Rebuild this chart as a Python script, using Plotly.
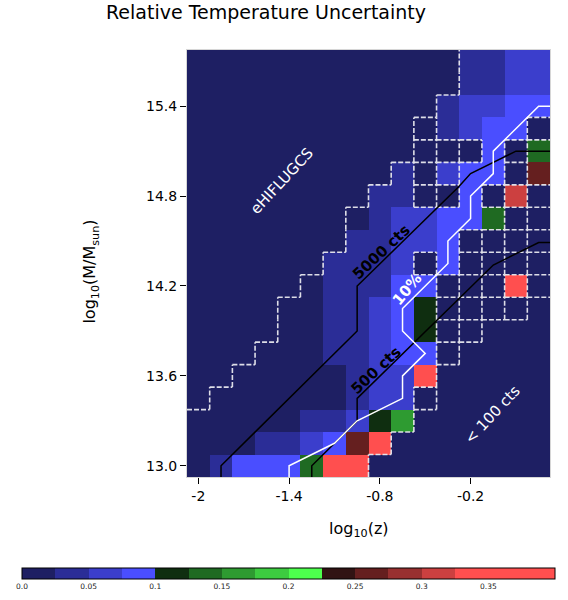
import plotly.graph_objects as go

# ---- grid of (log10 z, log10 M) bins --------------------------------------
logz_bins = [-2.0, -1.85, -1.7, -1.55, -1.4, -1.25, -1.1, -0.95,
             -0.8, -0.65, -0.5, -0.35, -0.2, -0.05, 0.1, 0.25]
logm_bins = [13.0, 13.15, 13.3, 13.45, 13.6, 13.75, 13.9, 14.05, 14.2, 14.35,
             14.5, 14.65, 14.8, 14.95, 15.1, 15.25, 15.4, 15.55, 15.7]
HALF = 0.075

# relative temperature uncertainty per bin, rows listed from the top (15.7) down
n = 0.01
rel_err_rows = [
    [n, n, n, n, n, n, n, n, n, n, n, n, 0.04, 0.04, 0.06, 0.06],
    [n, n, n, n, n, n, n, n, n, n, n, n, 0.04, 0.04, 0.06, 0.06],
    [n, n, n, n, n, n, n, n, n, n, n, 0.04, 0.06, 0.06, 0.09, 0.09],
    [n, n, n, n, n, n, n, n, n, n, n, 0.04, 0.06, 0.09, 0.09, n],
    [n, n, n, n, n, n, n, n, n, n, n, n, n, 0.09, n, 0.14],
    [n, n, n, n, n, n, n, n, n, 0.04, n, 0.06, 0.09, 0.09, n, 0.26],
    [n, n, n, n, n, n, n, n, 0.04, 0.04, n, n, 0.09, n, 0.31, n],
    [n, n, n, n, n, n, n, n, 0.04, 0.06, 0.06, 0.09, 0.09, 0.14, n, n],
    [n, n, n, n, n, n, n, 0.04, 0.04, 0.06, 0.06, 0.09, n, n, n, n],
    [n, n, n, n, n, n, 0.04, 0.04, 0.04, 0.06, n, 0.09, n, n, n, n],
    [n, n, n, n, n, n, 0.04, 0.04, 0.04, 0.09, 0.09, n, n, n, 0.36, n],
    [n, n, n, n, n, n, 0.04, 0.04, 0.06, 0.09, 0.11, n, n, n, n, n],
    [n, n, n, n, n, n, 0.04, 0.04, 0.06, 0.09, 0.11, n, n, n, n, n],
    [n, n, n, n, n, n, 0.04, 0.04, 0.06, 0.09, 0.09, n, n, n, n, n],
    [n, n, n, n, n, n, n, 0.04, 0.06, 0.06, 0.36, n, n, n, n, n],
    [n, n, n, n, n, n, n, 0.04, 0.06, 0.06, n, n, n, n, n, n],
    [n, n, n, n, n, 0.04, 0.04, 0.06, 0.11, 0.16, n, n, n, n, n, n],
    [n, n, n, 0.04, 0.04, 0.06, 0.09, 0.26, 0.36, n, n, n, n, n, n, n],
    [n, 0.04, 0.09, 0.09, 0.09, 0.14, 0.36, 0.36, n, n, n, n, n, n, n, n],
]

# bin flags, same row order: E = eHIFLUGCS domain, L = fewer than 100 counts,
# X = individually outlined bin, . = plain
bin_flags = [
    "EEEEEEEEEEEE....",
    "EEEEEEEEEEEE....",
    "EEEEEEEEEEE.....",
    "EEEEEEEEEEX....X",
    "EEEEEEEEEEXXX.X.",
    "EEEEEEEEE.XX..X.",
    "EEEEEEEE..XX.X.X",
    "EEEEEEE.......XX",
    "EEEEEEE.....XXXX",
    "EEEEEE....X.XXXX",
    "EEEEE......XXX.X",
    "EEEE.......XXXXL",
    "EEEE.......XXLLL",
    "EEE........XLLLL",
    "EE.........LLLLL",
    "E.........XLLLLL",
    "..........LLLLLL",
    ".........LLLLLLL",
    "........LLLLLLLL",
]

# count and uncertainty contours
cts5000_logz = [-1.85, -1.85, -0.95, -0.95, -0.28, -0.20, 0.10, 0.325]
cts5000_logm = [12.925, 13.0, 13.9, 14.2, 14.86, 14.95, 15.1, 15.1]
cts500_logz = [-1.25, -1.25, -0.95, -0.95, -0.05, 0.25, 0.325]
cts500_logm = [12.925, 13.0, 13.3, 13.45, 14.34, 14.49, 14.49]
err10_logz = [-1.4, -1.4, -1.1, -0.95, -0.65, -0.65, -0.5, -0.65, -0.65,
              -0.35, -0.35, -0.2, -0.2, -0.05, -0.05, 0.25, 0.325]
err10_logm = [12.925, 13.0, 13.15, 13.3, 13.45, 13.6, 13.75, 13.9, 14.05,
              14.35, 14.5, 14.65, 14.8, 14.95, 15.1, 15.4, 15.4]

# discrete colour map
cbar_bounds = [0.0, 0.025, 0.05, 0.075, 0.1, 0.125, 0.15, 0.175, 0.2,
               0.225, 0.25, 0.275, 0.3, 0.325, 0.4]
cbar_colors = ["#1e1f63", "#2b2d97", "#3b3ecc", "#4a4eff",
               "#0f2e10", "#1f6a22", "#2e9b31", "#3dcc40", "#4dff4d",
               "#311313", "#651f1f", "#983030", "#cc4040", "#ff4f4f"]
cbar_ticks = [0.0, 0.05, 0.1, 0.15, 0.2, 0.25, 0.3, 0.35]
cbar_ticktext = ["0.0", "0.05", "0.1", "0.15", "0.2", "0.25", "0.3", "0.35"]

xtick_vals = [-2, -1.4, -0.8, -0.2]
xtick_text = ["-2", "-1.4", "-0.8", "-0.2"]
ytick_vals = [13.0, 13.6, 14.2, 14.8, 15.4]
ytick_text = ["13.0", "13.6", "14.2", "14.8", "15.4"]

# ---------------------------------------------------------------------------
zmax = cbar_bounds[-1]
colorscale = []
for i, col in enumerate(cbar_colors):
    colorscale.append([cbar_bounds[i] / zmax, col])
    colorscale.append([cbar_bounds[i + 1] / zmax, col])

z = rel_err_rows[::-1]
flags = bin_flags[::-1]
nrow, ncol = len(logm_bins), len(logz_bins)
assert len(z) == nrow and all(len(r) == ncol for r in z)
assert len(flags) == nrow and all(len(r) == ncol for r in flags)

# region ids: big regions share one id, outlined bins each get their own
ids = [[0] * ncol for _ in range(nrow)]
next_id = 3
for r in range(nrow):
    for c in range(ncol):
        f = flags[r][c]
        if f == "E":
            ids[r][c] = 1
        elif f == "L":
            ids[r][c] = 2
        elif f == "X":
            ids[r][c] = next_id
            next_id += 1

edge_x, edge_y = [], []
for r in range(nrow):
    for c in range(ncol):
        if c + 1 < ncol:
            a, b = ids[r][c], ids[r][c + 1]
            if a != b and (a or b):
                xe = logz_bins[c] + HALF
                edge_x += [xe, xe, None]
                edge_y += [logm_bins[r] - HALF, logm_bins[r] + HALF, None]
        if r + 1 < nrow:
            a, b = ids[r][c], ids[r + 1][c]
            if a != b and (a or b):
                ye = logm_bins[r] + HALF
                edge_x += [logz_bins[c] - HALF, logz_bins[c] + HALF, None]
                edge_y += [ye, ye, None]

FONT = "DejaVu Sans"

fig = go.Figure()
fig.add_trace(go.Heatmap(
    x=logz_bins, y=logm_bins, z=z, zmin=0, zmax=zmax,
    colorscale=colorscale, hoverinfo="skip",
    colorbar=dict(
        orientation="h", x=0.2796, xanchor="center", y=-0.2103, yanchor="top",
        len=533, lenmode="pixels", thickness=11, thicknessmode="pixels",
        outlinewidth=1, outlinecolor="black", xpad=0, ypad=0,
        tickvals=cbar_ticks, ticktext=cbar_ticktext, ticks="",
        tickfont=dict(family=FONT, size=7.5, color="#222"),
    ),
))
fig.add_trace(go.Scatter(
    x=edge_x, y=edge_y, mode="lines", hoverinfo="skip",
    line=dict(color="rgba(232,232,238,0.95)", width=1.6, dash="5px,2px"),
))
fig.add_trace(go.Scatter(x=cts5000_logz, y=cts5000_logm, mode="lines",
                         line=dict(color="black", width=1.5)))
fig.add_trace(go.Scatter(x=cts500_logz, y=cts500_logm, mode="lines",
                         line=dict(color="black", width=1.5)))
fig.add_trace(go.Scatter(x=err10_logz, y=err10_logm, mode="lines",
                         line=dict(color="white", width=1.5)))

labels = [
    ("eHIFLUGCS", -1.448, 14.90, -47, "white", False, 15),
    ("5000 cts", -0.79, 14.43, -43, "black", True, 15),
    ("500 cts", -0.823, 13.64, -43, "black", True, 15),
    ("10%", -0.618, 14.18, -50, "white", True, 15),
    ("&lt; 100 cts", -0.058, 13.34, -47, "white", False, 15),
]
for txt, lx, ly, ang, col, bold, size in labels:
    fig.add_annotation(
        x=lx, y=ly, xref="x", yref="y", showarrow=False, textangle=ang,
        xanchor="center", yanchor="middle",
        text=f"<b>{txt}</b>" if bold else txt,
        font=dict(family=FONT, size=size, color=col),
    )

# axis titles
fig.add_annotation(x=0.4738, y=-0.1238, xref="paper", yref="paper",
                   xanchor="center", yanchor="middle",
                   showarrow=False, text="log<sub>10</sub>(z)",
                   font=dict(family=FONT, size=16, color="black"))
fig.add_annotation(x=-0.2645, y=0.481, xref="paper", yref="paper",
                   xanchor="center", yanchor="middle",
                   showarrow=False, textangle=-90,
                   text="log<sub>10</sub>(M/M<sub>sun</sub>)",
                   font=dict(family=FONT, size=16, color="black"))

axis_common = dict(
    showgrid=False, zeroline=False, ticks="outside", ticklen=6, tickwidth=1.3,
    tickcolor="black", showline=True, linecolor="#d6d6d6", linewidth=1,
    mirror=True, tickfont=dict(family=FONT, size=14, color="black"),
)
fig.update_xaxes(range=[-2.075, 0.325], tickvals=xtick_vals,
                 ticktext=xtick_text, **axis_common)
fig.update_yaxes(range=[12.925, 15.775], tickvals=ytick_vals,
                 ticktext=ytick_text, **axis_common)

fig.update_layout(
    width=568, height=600,
    margin=dict(l=187, r=18, t=50, b=122),
    paper_bgcolor="white", plot_bgcolor="white",
    showlegend=False,
    title=dict(text="Relative Temperature Uncertainty", xref="container",
               x=266 / 568, xanchor="center", yref="container",
               y=1 - 12 / 600, yanchor="middle",
               font=dict(family=FONT, size=19, color="black")),
    font=dict(family=FONT),
)

fig.write_html("out.html")
